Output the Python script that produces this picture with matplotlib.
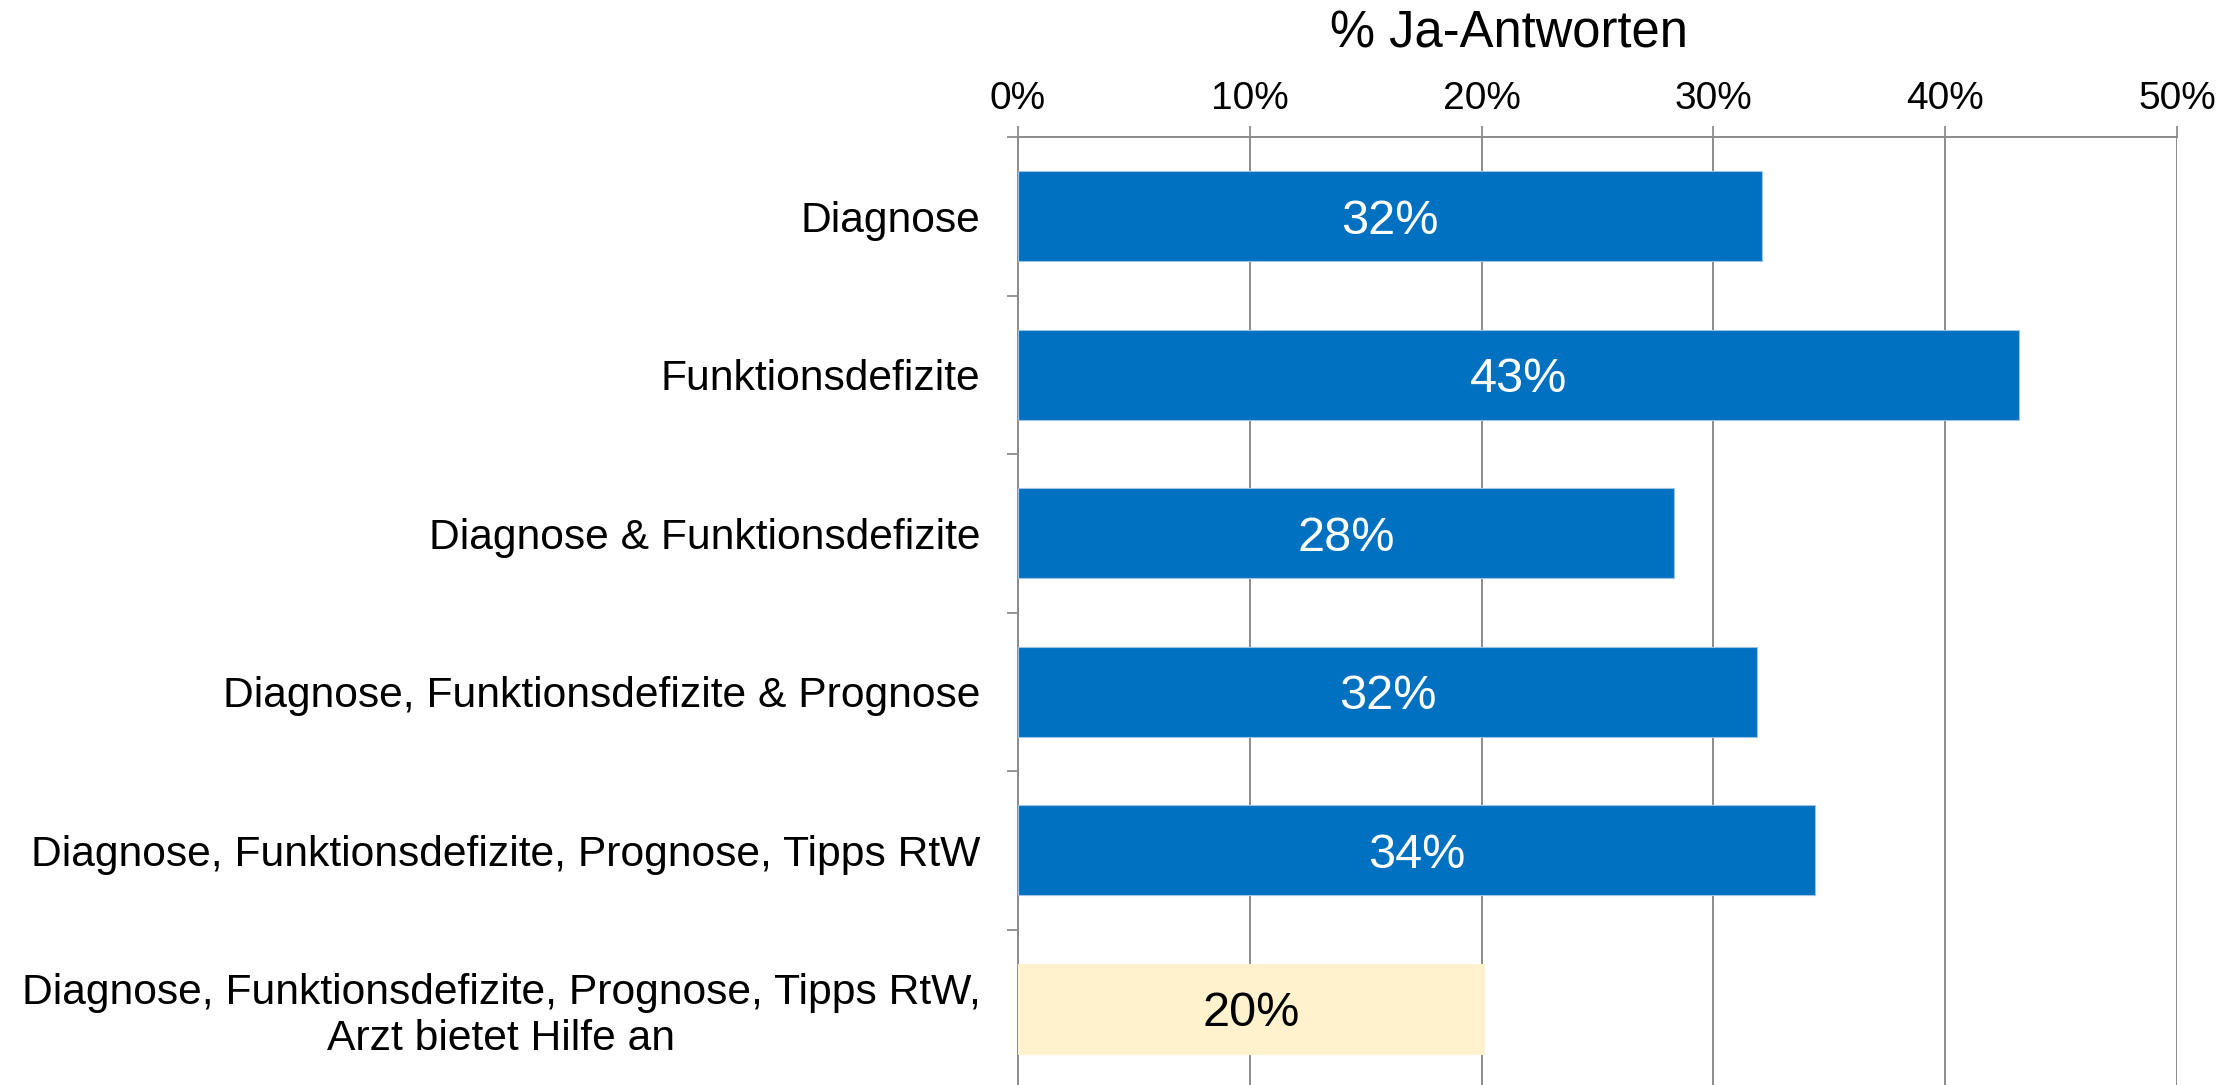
import matplotlib
matplotlib.use("Agg")
import matplotlib.pyplot as plt
from matplotlib.ticker import FixedLocator, FuncFormatter

categories = [
    "Diagnose",
    "Funktionsdefizite",
    "Diagnose & Funktionsdefizite",
    "Diagnose, Funktionsdefizite & Prognose",
    "Diagnose, Funktionsdefizite, Prognose, Tipps RtW",
    "Diagnose, Funktionsdefizite, Prognose, Tipps RtW,\nArzt bietet Hilfe an",
]
values = [32.1, 43.2, 28.3, 31.9, 34.4, 20.1]
value_labels = ["32%", "43%", "28%", "32%", "34%", "20%"]
bar_colors = ["#0070C0", "#0070C0", "#0070C0", "#0070C0", "#0070C0", "#FFF2CC"]
label_colors = ["white", "white", "white", "white", "white", "black"]
xticks = [0, 10, 20, 30, 40, 50]

plt.rcParams["font.family"] = ["Liberation Sans", "DejaVu Sans"]

W, H = 2239, 1085
fig = plt.figure(figsize=(W / 100, H / 100), dpi=100)
left, right, top, bottom = 1018, 2177, 137, 1088
ax = fig.add_axes([left / W, (H - bottom) / H, (right - left) / W, (bottom - top) / H])

grey = "#8C8C8C"
ypos = list(range(len(categories)))
bars = ax.barh(ypos, values, height=0.57, color=bar_colors, zorder=3,
               edgecolor=["#9DC3E6"] * 5 + ["#FFF2CC"], linewidth=0.8)
for y, v, t, c in zip(ypos, values, value_labels, label_colors):
    ax.text(v / 2, y + 0.03, t, ha="center", va="center", color=c, fontsize=35, zorder=4)

ax.set_xlim(0, 50)
ax.set_ylim(len(categories) - 0.5, -0.5)
ax.xaxis.tick_top()
ax.set_xticks(xticks)
ax.xaxis.set_major_formatter(FuncFormatter(lambda x, p: f"{int(x)}%"))
ax.tick_params(axis="x", which="major", direction="out", length=8, width=1.3,
               color=grey, labelsize=28, pad=6.5)
ax.grid(axis="x", color=grey, linewidth=1.4, zorder=0)

ax.set_yticks(ypos)
ax.set_yticklabels(categories)
ax.yaxis.set_minor_locator(FixedLocator([i - 0.5 for i in range(len(categories) + 1)]))
ax.tick_params(axis="y", which="major", length=0, labelsize=30.7, pad=27)
ax.tick_params(axis="y", which="minor", direction="out", length=8, width=1.3, color=grey)
for lab in ax.get_yticklabels():
    lab.set_multialignment("center")

for s in ["right", "bottom"]:
    ax.spines[s].set_visible(False)
for s in ["top", "left"]:
    ax.spines[s].set_color(grey)
    ax.spines[s].set_linewidth(1.4)

fig.text(1509 / W, 1 - 34 / H, "% Ja-Antworten", ha="center", va="center", fontsize=36.5)

fig.savefig("out.png", dpi=100, facecolor="white")
